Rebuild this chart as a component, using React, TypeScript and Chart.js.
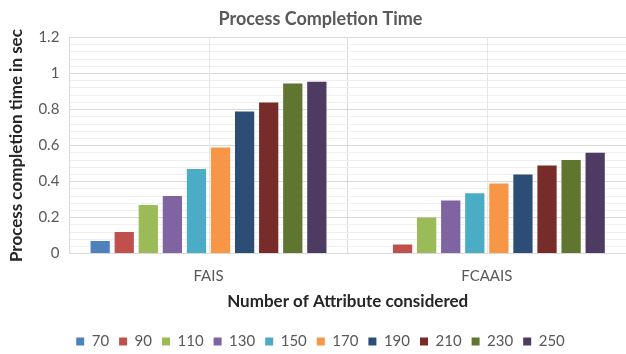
import React, { useEffect, useRef } from "react";
import { Chart, registerables } from "chart.js";

Chart.register(...registerables);

// Categories and attribute counts
const categories = ["FAIS", "FCAAIS"];
const attributeCounts = ["70", "90", "110", "130", "150", "170", "190", "210", "230", "250"];

// Completion time (sec) per attribute count: [FAIS, FCAAIS]
const t70 = [0.07, 0];
const t90 = [0.12, 0.05];
const t110 = [0.27, 0.2];
const t130 = [0.32, 0.295];
const t150 = [0.47, 0.335];
const t170 = [0.59, 0.39];
const t190 = [0.79, 0.44];
const t210 = [0.84, 0.49];
const t230 = [0.945, 0.52];
const t250 = [0.955, 0.56];

const seriesValues = [t70, t90, t110, t130, t150, t170, t190, t210, t230, t250];

const seriesColors = [
  "#4F81BD",
  "#C0504D",
  "#9BBB59",
  "#8064A2",
  "#4BACC6",
  "#F79646",
  "#2C4D75",
  "#772C2A",
  "#5F7530",
  "#4D3B62",
];

const yTicks = [0, 0.2, 0.4, 0.6, 0.8, 1, 1.2];

const FONT = "Lato, 'Liberation Sans', sans-serif";

// Light vertical lines through the middle of each category
const centerLines = {
  id: "centerLines",
  beforeDatasetsDraw(chart: any) {
    const { ctx, chartArea, scales } = chart;
    const x = scales.x;
    ctx.save();
    ctx.strokeStyle = "#e6e6e6";
    ctx.lineWidth = 1;
    categories.forEach((_, i) => {
      const px = Math.round(x.getPixelForValue(i)) + 0.5;
      ctx.beginPath();
      ctx.moveTo(px, chartArea.top);
      ctx.lineTo(px, chartArea.bottom);
      ctx.stroke();
    });
    ctx.restore();
  },
};

export default function App() {
  const canvasRef = useRef<HTMLCanvasElement | null>(null);

  useEffect(() => {
    document.body.style.margin = "0";
    const canvas = canvasRef.current;
    if (!canvas) return;

    const chart = new Chart(canvas, {
      type: "bar",
      data: {
        labels: categories,
        datasets: attributeCounts.map((label, i) => ({
          label,
          data: seriesValues[i],
          backgroundColor: seriesColors[i],
          borderWidth: 0,
          barPercentage: 0.8,
          categoryPercentage: 0.865,
        })),
      },
      options: {
        responsive: false,
        animation: false,
        devicePixelRatio: 1,
        layout: { padding: { left: 6, right: -9, top: 4, bottom: -5 } },
        plugins: {
          title: {
            display: true,
            text: "Process Completion Time",
            color: "#595959",
            font: { family: FONT, size: 18, weight: "bold" },
            padding: { top: 4, bottom: 8 },
          },
          legend: {
            position: "bottom",
            labels: {
              boxWidth: 8,
              boxHeight: 8,
              padding: 10,
              color: "#595959",
              font: { family: FONT, size: 15 },
            },
          },
          tooltip: { enabled: false },
        },
        scales: {
          x: {
            grid: {
              offset: true,
              color: "#dcdcdc",
              drawTicks: false,
            },
            border: { color: "#d9d9d9" },
            ticks: {
              color: "#595959",
              padding: 14,
              font: { family: FONT, size: 15 },
            },
            title: {
              display: true,
              text: "Number of Attribute considered",
              color: "#262626",
              font: { family: FONT, size: 17, weight: "bold" },
              padding: { top: -8, bottom: 12 },
            },
          },
          y: {
            min: 0,
            max: 1.2,
            afterBuildTicks(scale: any) {
              const ticks: { value: number }[] = [];
              for (let k = 0; k <= 30; k++) ticks.push({ value: Math.round(k * 4) / 100 });
              scale.ticks = ticks;
            },
            grid: {
              drawTicks: false,
              color: (c: any) => {
                const v = c.tick ? c.tick.value : 0;
                return yTicks.some((t) => Math.abs(t - v) < 1e-6) ? "#d9d9d9" : "#f0f0f0";
              },
            },
            border: { color: "#d9d9d9" },
            ticks: {
              autoSkip: false,
              color: "#595959",
              padding: 10,
              font: { family: FONT, size: 15 },
              callback: (v: any) => {
                const n = Number(v);
                const major = yTicks.find((t) => Math.abs(t - n) < 1e-6);
                return major === undefined ? "" : String(major);
              },
            },
            title: {
              display: true,
              text: "Process completion time in sec",
              color: "#262626",
              font: { family: FONT, size: 17, weight: "bold" },
              padding: { top: 0, bottom: 2 },
            },
          },
        },
      },
      plugins: [centerLines],
    });

    return () => chart.destroy();
  }, []);

  return <canvas ref={canvasRef} width={626} height={354} style={{ display: "block" }} />;
}
